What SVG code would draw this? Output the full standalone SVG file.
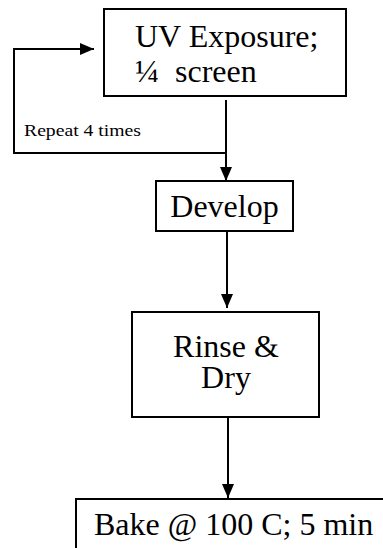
<svg xmlns="http://www.w3.org/2000/svg" width="383" height="548" viewBox="0 0 383 548">
<style>
.box{fill:#fff;stroke:#000;stroke-width:2}
.t{font-family:"Liberation Serif","Times New Roman",serif;font-size:32px;fill:#000}
.s{font-family:"Liberation Serif","Times New Roman",serif;font-size:16px;fill:#000}
.c{fill:none;stroke:#000;stroke-width:2}
</style>
<defs>
<marker id="ah" markerWidth="14" markerHeight="12" refX="14" refY="6" orient="auto" markerUnits="userSpaceOnUse">
<path d="M0,0 L14,6 L0,12 Z" fill="#000"/>
</marker>
</defs>
<rect width="383" height="548" fill="#fff"/>
<g id="connectors">
<path class="c" d="M226,100 L226,181" marker-end="url(#ah)"/>
<path class="c" d="M226,153 L14,153 L14,49 L94,49" marker-end="url(#ah)"/>
<path class="c" d="M227,231 L227,308" marker-end="url(#ah)"/>
<path class="c" d="M228,417 L228,498" marker-end="url(#ah)"/>
<text class="s" x="24" y="136" textLength="117" lengthAdjust="spacingAndGlyphs">Repeat 4 times</text>
</g>
<g id="uv">
<rect class="box" x="104" y="9" width="242" height="87"/>
<text class="t" x="135" y="47">UV Exposure;</text>
<text class="t" x="135" y="82" xml:space="preserve">¼  screen</text>
</g>
<g id="develop">
<rect class="box" x="156" y="181" width="137" height="50"/>
<text class="t" x="224.5" y="217" text-anchor="middle">Develop</text>
</g>
<g id="rinse">
<rect class="box" x="132" y="312" width="187" height="105"/>
<text class="t" x="226" y="357" text-anchor="middle">Rinse &amp;</text>
<text class="t" x="226" y="388" text-anchor="middle">Dry</text>
</g>
<g id="bake">
<rect class="box" x="76" y="499" width="320" height="70"/>
<text class="t" x="94" y="535">Bake @ 100 C; 5 min</text>
</g>
</svg>
